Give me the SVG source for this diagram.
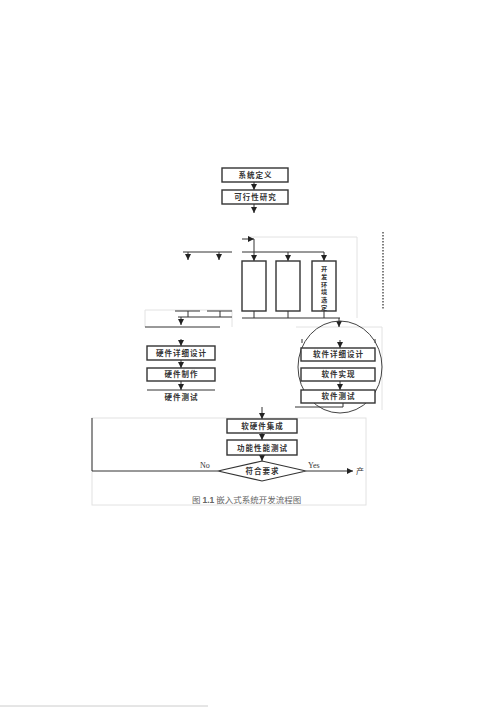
<svg xmlns="http://www.w3.org/2000/svg" width="500" height="708" viewBox="0 0 500 708">
<style>
.box{fill:#fff;stroke:#333;stroke-width:1.4}
.ln{stroke:#333;stroke-width:1;fill:none}
.ar{stroke:#333;stroke-width:1;fill:none;marker-end:url(#ah)}
.faint{stroke:#e2e2e2;stroke-width:1;fill:none}
.t{font-family:"Noto Sans CJK SC","Liberation Sans",sans-serif;font-size:7.5px;font-weight:bold;fill:#333;text-anchor:middle;letter-spacing:1px}
.tv{font-family:"Noto Sans CJK SC","Liberation Sans",sans-serif;font-size:6.2px;font-weight:bold;fill:#333;text-anchor:middle}
.lab{font-family:"Liberation Serif","Noto Sans CJK SC",serif;font-size:8px;fill:#333}
.cap{font-family:"Noto Sans CJK SC","Liberation Serif",serif;font-size:8.5px;fill:#666}
</style>
<defs>
<marker id="ah" markerUnits="userSpaceOnUse" markerWidth="7" markerHeight="6" refX="6" refY="3" orient="auto">
<path d="M0,0 L6,3 L0,6 z" fill="#222"/>
</marker>
</defs>
<rect width="500" height="708" fill="#fff"/>
<g id="frames">
<rect class="faint" x="92" y="418" width="274" height="87"/>
<path class="faint" d="M248,237 H357 V318 M145,310 V327 M145,310 H232 V327 M296,327 H382 V410"/>
<line x1="0" y1="706" x2="208" y2="706" stroke="#ccc" stroke-width="1"/>
</g>
<g id="connectors">
<line class="ar" x1="254" y1="182" x2="254" y2="190"/>
<line class="ar" x1="254" y1="204" x2="254" y2="213"/>
<line class="ar" x1="242" y1="239" x2="254" y2="239"/>
<line class="ar" x1="254" y1="239" x2="254" y2="261"/>
<line class="ln" x1="242" y1="252" x2="324" y2="252"/>
<line class="ar" x1="288" y1="252" x2="288" y2="261"/>
<line class="ar" x1="324" y1="252" x2="324" y2="261"/>
<path class="ln" d="M254,311 V318 M288,311 V318 M324,311 V318 M242,318 H340"/>
<line class="ar" x1="339" y1="318" x2="339" y2="327"/>
<line class="ln" x1="183" y1="252" x2="232" y2="252"/>
<line class="ar" x1="188" y1="252" x2="188" y2="260"/>
<line class="ar" x1="219" y1="252" x2="219" y2="260"/>
<path class="ln" d="M175,311 H200 M207,311 H232 M188,311 V317 M220,311 V317 M178,317 H232 M145,327 H220"/>
<line class="ar" x1="181" y1="317" x2="181" y2="325"/>
<line class="ar" x1="181" y1="339" x2="181" y2="346"/>
<line class="ar" x1="181" y1="360" x2="181" y2="368"/>
<line class="ar" x1="181" y1="381" x2="181" y2="390"/>
<line class="ln" x1="147" y1="390" x2="215" y2="390"/>
<line class="ar" x1="340" y1="340" x2="340" y2="348"/>
<line class="ar" x1="340" y1="381" x2="340" y2="390"/>
<path class="ln" d="M343,403 V407 H295"/>
<path class="ln" d="M302,339 V343 M375,339 V343"/>
<line class="ar" x1="262" y1="407" x2="262" y2="419"/>
<line class="ar" x1="262" y1="433" x2="262" y2="440"/>
<line class="ar" x1="262" y1="455" x2="262" y2="461"/>
<line class="ar" x1="306" y1="471" x2="353" y2="471"/>
<path class="ln" d="M218,471 H92 V418"/>
<line x1="383" y1="232" x2="383" y2="310" stroke="#555" stroke-width="1.5" stroke-dasharray="1.5 1.5"/>
</g>
<g id="n_sysdef"><rect class="box" x="222" y="168" width="66" height="14"/><text class="t" x="255.5" y="178">系统定义</text></g>
<g id="n_feas"><rect class="box" x="222" y="190" width="66" height="14"/><text class="t" x="255.5" y="200">可行性研究</text></g>
<g id="n_col1"><rect class="box" x="242" y="261" width="24" height="50"/></g>
<g id="n_col2"><rect class="box" x="276" y="261" width="24" height="50"/></g>
<g id="n_col3"><rect class="box" x="312" y="261" width="24" height="50"/>
<text class="tv" x="324" y="271">开</text><text class="tv" x="324" y="278.8">发</text><text class="tv" x="324" y="286.6">环</text><text class="tv" x="324" y="294.4">境</text><text class="tv" x="324" y="302.2">选</text><text class="tv" x="324" y="310">定</text></g>
<g id="n_hwdesign"><rect class="box" x="147" y="346" width="68" height="14"/><text class="t" x="181.5" y="356">硬件详细设计</text></g>
<g id="n_hwmake"><rect class="box" x="147" y="368" width="68" height="13"/><text class="t" x="181.5" y="377">硬件制作</text></g>
<g id="n_hwtest"><text class="t" x="181.5" y="400">硬件测试</text></g>
<g id="n_swgroup"><ellipse cx="340" cy="367" rx="42" ry="46" fill="none" stroke="#444" stroke-width="1"/></g>
<g id="n_swdesign"><rect class="box" x="301" y="348" width="74" height="13"/><text class="t" x="338.5" y="357">软件详细设计</text></g>
<g id="n_swimpl"><rect class="box" x="301" y="368" width="74" height="13"/><text class="t" x="338.5" y="377">软件实现</text></g>
<g id="n_swtest"><rect class="box" x="301" y="390" width="74" height="13"/><text class="t" x="338.5" y="399">软件测试</text></g>
<g id="n_integ"><rect class="box" x="227" y="419" width="70" height="14"/><text class="t" x="262.5" y="429">软硬件集成</text></g>
<g id="n_functest"><rect class="box" x="227" y="440" width="70" height="15"/><text class="t" x="262.5" y="451">功能性能测试</text></g>
<g id="n_decision"><polygon points="218,471 262,461 306,471 262,481" fill="#fff" stroke="#333" stroke-width="1.2"/><text class="t" x="262.5" y="474">符合要求</text></g>
<g id="labels">
<text class="lab" x="200" y="468">No</text>
<text class="lab" x="308" y="468">Yes</text>
<text class="lab" x="356" y="474">产</text>
<text class="cap" x="192" y="503">图 <tspan font-weight="bold" font-family="Liberation Sans, sans-serif">1.1</tspan>   嵌入式系统开发流程图</text>
</g>
</svg>
